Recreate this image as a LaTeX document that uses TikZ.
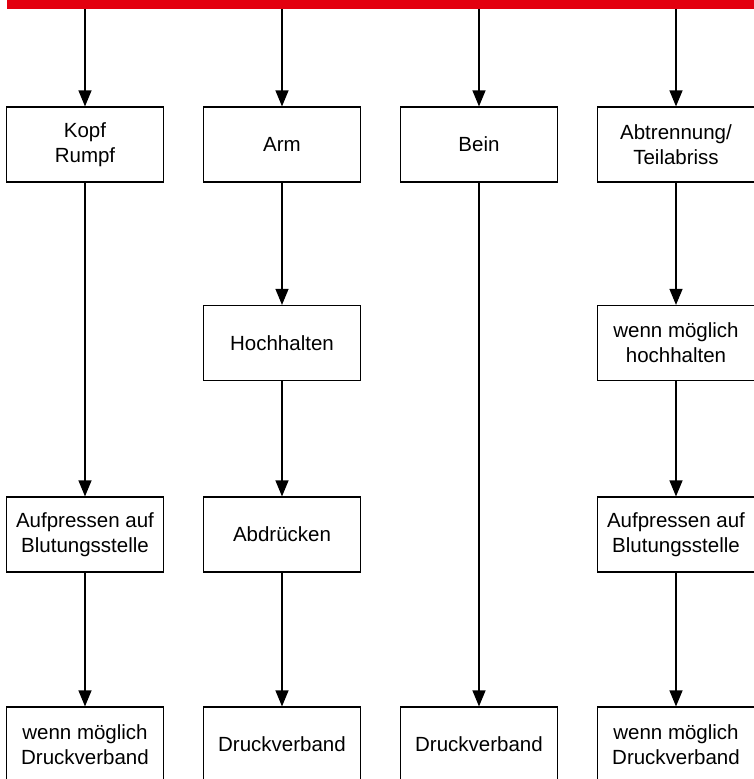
\documentclass[tikz,border=0pt]{standalone}
\usepackage{fontspec}
\setmainfont{Liberation Sans}
\usetikzlibrary{arrows.meta}
\definecolor{barred}{RGB}{227,0,15}
\begin{document}
\begin{tikzpicture}[x=1pt,y=-1pt,>={Triangle[length=16pt,width=13pt]},
  box/.style={draw,line width=1.2pt,minimum width=157pt,minimum height=75pt,
    align=center,font=\fontsize{20.5}{25}\selectfont},
  flow/.style={->,line width=1.2pt}]
\useasboundingbox (0,0) rectangle (753,779);
\fill [barred] (7,-5) rectangle (760,9);
% start points on the bar
\coordinate (t1) at (85,9);
\coordinate (t2) at (282,9);
\coordinate (t3) at (479,9);
\coordinate (t4) at (676,9);
% first row
\node [box] (kopf) at (85,144.5) {Kopf\\Rumpf};
\node [box] (arm) at (282,144.5) {Arm};
\node [box] (bein) at (479,144.5) {Bein};
\node [box] (abtr) at (676,144.5) {Abtrennung/\\Teilabriss};
% second row
\node [box] (hoch) at (282,343) {Hochhalten};
\node [box] (hochwm) at (676,343) {wenn möglich\\hochhalten};
% third row
\node [box] (auf1) at (85,534.5) {Aufpressen auf\\Blutungsstelle};
\node [box] (abdr) at (282,534.5) {Abdrücken};
\node [box] (auf4) at (676,534.5) {Aufpressen auf\\Blutungsstelle};
% last row
\node [box] (dv1) at (85,744.5) {wenn möglich\\Druckverband};
\node [box] (dv2) at (282,744.5) {Druckverband};
\node [box] (dv3) at (479,744.5) {Druckverband};
\node [box] (dv4) at (676,744.5) {wenn möglich\\Druckverband};
\draw [flow] (t1) -- (kopf);
\draw [flow] (t2) -- (arm);
\draw [flow] (t3) -- (bein);
\draw [flow] (t4) -- (abtr);
\draw [flow] (kopf) -- (auf1);
\draw [flow] (auf1) -- (dv1);
\draw [flow] (arm) -- (hoch);
\draw [flow] (hoch) -- (abdr);
\draw [flow] (abdr) -- (dv2);
\draw [flow] (bein) -- (dv3);
\draw [flow] (abtr) -- (hochwm);
\draw [flow] (hochwm) -- (auf4);
\draw [flow] (auf4) -- (dv4);
\end{tikzpicture}
\end{document}
